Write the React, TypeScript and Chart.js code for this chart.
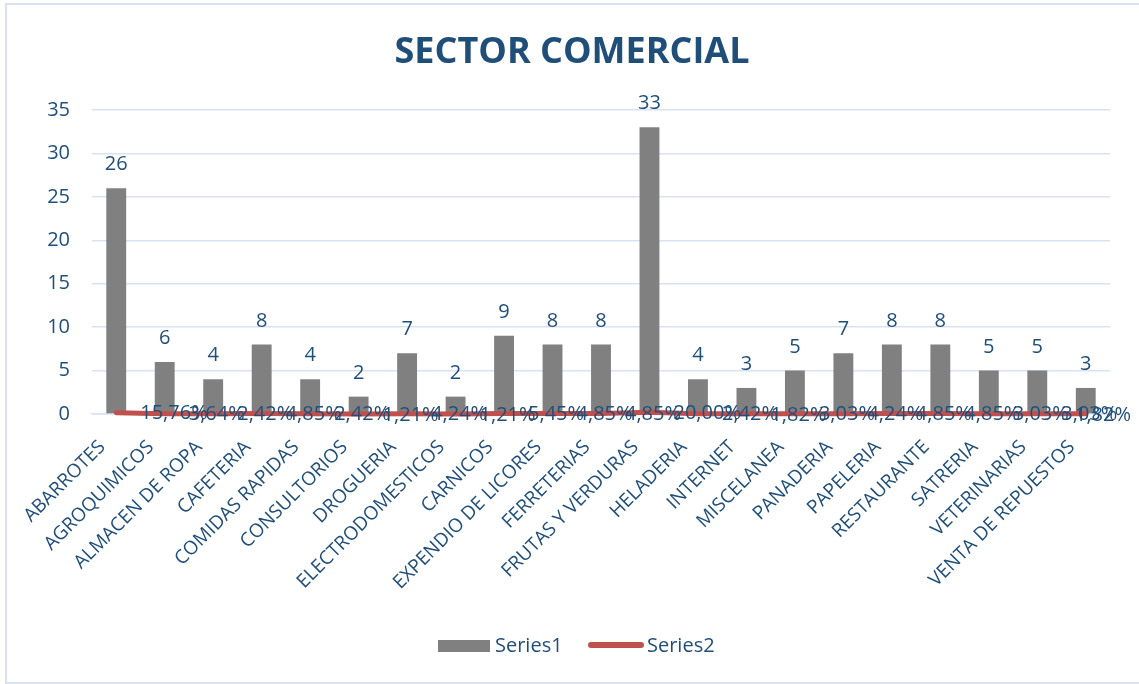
import { useEffect, useRef } from 'react';
import { Chart, registerables } from 'chart.js';

Chart.register(...registerables);

const TITLE = 'SECTOR COMERCIAL';
const categories = [
  'ABARROTES', 'AGROQUIMICOS', 'ALMACEN DE ROPA', 'CAFETERIA', 'COMIDAS RAPIDAS',
  'CONSULTORIOS', 'DROGUERIA', 'ELECTRODOMESTICOS', 'CARNICOS', 'EXPENDIO DE LICORES',
  'FERRETERIAS', 'FRUTAS Y VERDURAS', 'HELADERIA', 'INTERNET', 'MISCELANEA',
  'PANADERIA', 'PAPELERIA', 'RESTAURANTE', 'SATRERIA', 'VETERINARIAS', 'VENTA DE REPUESTOS',
];
const series1 = [26, 6, 4, 8, 4, 2, 7, 2, 9, 8, 8, 33, 4, 3, 5, 7, 8, 8, 5, 5, 3];
const series2Pct = [
  15.76, 3.64, 2.42, 4.85, 2.42, 1.21, 4.24, 1.21, 5.45, 4.85, 4.85,
  20.0, 2.42, 1.82, 3.03, 4.24, 4.85, 4.85, 3.03, 3.03, 1.82,
];
const yMin = 0;
const yMax = 35;
const yStep = 5;
const seriesNames = ['Series1', 'Series2'];

const TEXT = '#1F4E79';
const BAR = '#808080';
const LINE = '#C0504D';
const GRID = '#D9E2F3';
const FONT = '"Open Sans", "DejaVu Sans", sans-serif';

const overlayPlugin = {
  id: 'overlay',
  afterDatasetsDraw(chart: any) {
    const ctx = chart.ctx;
    ctx.save();
    ctx.font = `20px ${FONT}`;
    ctx.fillStyle = TEXT;
    const barMeta = chart.getDatasetMeta(0);
    barMeta.data.forEach((bar: any, i: number) => {
      ctx.textAlign = 'center';
      ctx.textBaseline = 'alphabetic';
      ctx.fillText(String(series1[i]), bar.x, bar.y - 18);
    });
    const lineMeta = chart.getDatasetMeta(1);
    lineMeta.data.forEach((pt: any, i: number) => {
      ctx.textAlign = 'left';
      ctx.textBaseline = 'middle';
      const txt = series2Pct[i].toFixed(2).replace('.', ',') + '%';
      const w = ctx.measureText(txt).width;
      let x = pt.x + 24;
      if (x + w > chart.width - 8) x = chart.width - 8 - w;
      ctx.fillText(txt, x, pt.y + 1);
    });
    ctx.restore();
  },
  afterDraw(chart: any) {
    const ctx = chart.ctx;
    ctx.save();
    // title
    ctx.font = `bold 36px ${FONT}`;
    ctx.fillStyle = TEXT;
    ctx.textAlign = 'center';
    ctx.textBaseline = 'alphabetic';
    ctx.fillText(TITLE, 572, 63);
    // legend
    const ly = 646;
    ctx.fillStyle = BAR;
    ctx.fillRect(438, ly - 6, 52, 12);
    ctx.strokeStyle = LINE;
    ctx.lineWidth = 6;
    ctx.lineCap = 'round';
    ctx.beginPath();
    ctx.moveTo(591, ly - 1);
    ctx.lineTo(641, ly - 1);
    ctx.stroke();
    ctx.font = `20px ${FONT}`;
    ctx.fillStyle = TEXT;
    ctx.textAlign = 'left';
    ctx.textBaseline = 'middle';
    ctx.fillText(seriesNames[0], 495, ly);
    ctx.fillText(seriesNames[1], 647, ly);
    ctx.restore();
  },
};

export default function App() {
  const ref = useRef<HTMLCanvasElement | null>(null);

  useEffect(() => {
    document.body.style.margin = '0';
    let chart: Chart | null = null;
    let cancelled = false;
    const make = () => {
      if (cancelled || !ref.current) return;
      chart = new Chart(ref.current, {
        data: {
          labels: categories,
          datasets: [
            {
              type: 'bar',
              label: seriesNames[0],
              data: series1,
              backgroundColor: BAR,
              categoryPercentage: 0.82,
              barPercentage: 0.5,
              order: 2,
            },
            {
              type: 'line',
              label: seriesNames[1],
              data: series2Pct.map((v) => v / 100),
              borderColor: LINE,
              backgroundColor: LINE,
              borderWidth: 5,
              borderCapStyle: 'round',
              pointRadius: 0,
              clip: false,
              order: 1,
            },
          ],
        } as any,
        options: {
          animation: false,
          responsive: false,
          layout: { padding: { left: 0, right: 29, top: 110, bottom: 70 } },
          plugins: {
            legend: { display: false },
            title: { display: false },
            tooltip: { enabled: false },
          },
          scales: {
            x: {
              offset: true,
              grid: { display: false, drawTicks: false },
              border: { display: true, color: GRID, width: 1.5 },
              ticks: {
                autoSkip: false,
                minRotation: 45,
                maxRotation: 45,
                padding: 22,
                labelOffset: -14,
                color: TEXT,
                font: { family: FONT, size: 19 },
              },
              afterFit(scale: any) {
                scale.height = 200;
              },
            },
            y: {
              min: yMin,
              max: yMax,
              ticks: {
                stepSize: yStep,
                padding: 22,
                color: TEXT,
                font: { family: FONT, size: 20 },
              },
              grid: { color: GRID, lineWidth: 1.5, drawTicks: false },
              border: { display: false },
              afterFit(scale: any) {
                scale.width = 92;
              },
            },
          },
        } as any,
        plugins: [overlayPlugin],
      });
    };
    const fonts = (document as any).fonts;
    if (fonts && fonts.load) {
      Promise.all([fonts.load(`20px "Open Sans"`), fonts.load(`bold 36px "Open Sans"`)])
        .catch(() => null)
        .then(make);
    } else {
      make();
    }
    return () => {
      cancelled = true;
      if (chart) chart.destroy();
    };
  }, []);

  return (
    <div style={{ position: 'fixed', left: 0, top: 0, width: 1139, height: 684, background: '#fff' }}>
      <canvas ref={ref} width={1139} height={684} style={{ position: 'absolute', left: 0, top: 0 }} />
      <div
        style={{
          position: 'absolute',
          left: 5,
          top: 3,
          width: 1150,
          height: 681,
          boxSizing: 'border-box',
          border: `2px solid ${GRID}`,
          pointerEvents: 'none',
        }}
      />
    </div>
  );
}
